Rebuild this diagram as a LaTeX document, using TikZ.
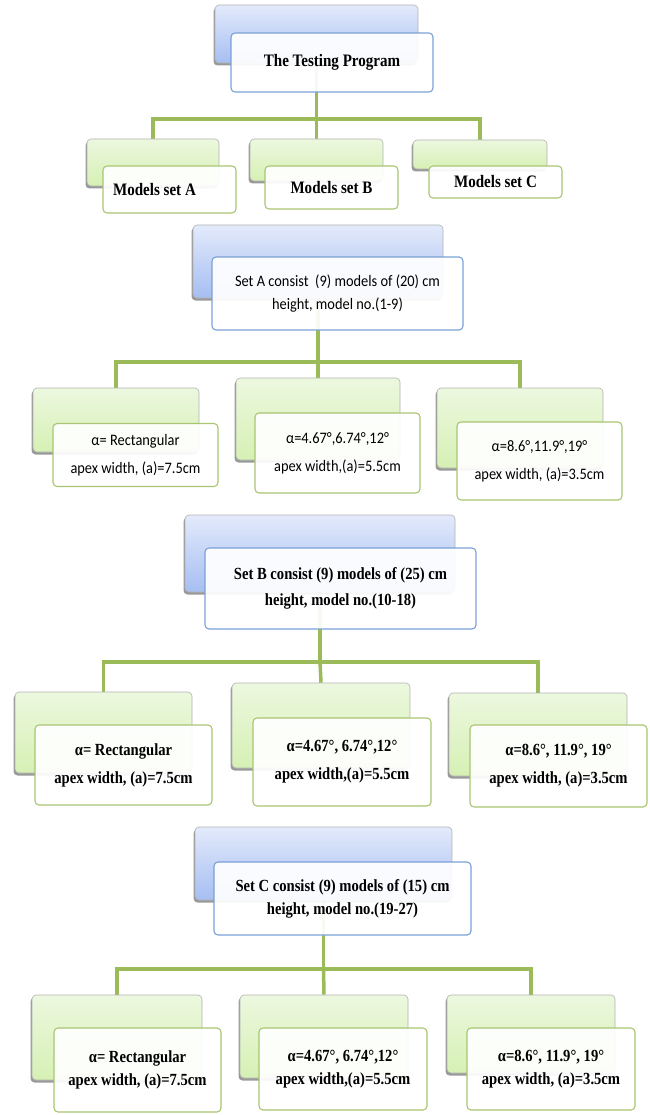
\documentclass[tikz,border=0pt]{standalone}
\usepackage{fontspec}
\setmainfont{Liberation Serif}[FakeStretch=0.86]
\newfontfamily\calfont{Carlito}[FakeStretch=0.9]
\usetikzlibrary{shadows}
\pgfdeclarelayer{bg}
\pgfsetlayers{bg,main}
\definecolor{grn}{HTML}{9BBB59}
\definecolor{blueT}{HTML}{E3EAFB}
\definecolor{blueB}{HTML}{A6BEF2}
\definecolor{blueD}{HTML}{7AA0D6}
\definecolor{greenT}{HTML}{ECF8DF}
\definecolor{greenB}{HTML}{D6F0B4}
\begin{document}
\begin{tikzpicture}[x=1pt,y=-1pt,
  bbk/.style={rectangle, rounded corners=4pt, draw=gray!60, line width=0.6pt, top color=blueT, bottom color=blueB, inner sep=0pt,
    drop shadow={shadow xshift=-1.5pt, shadow yshift=-2.5pt, fill=black, opacity=0.4}},
  gbk/.style={rectangle, rounded corners=4pt, draw=gray!60, line width=0.6pt, top color=greenT, bottom color=greenB, inner sep=0pt,
    drop shadow={shadow xshift=-1.5pt, shadow yshift=-2.5pt, fill=black, opacity=0.4}},
  bft/.style={rectangle, rounded corners=4pt, draw=blueD, line width=1.1pt, fill=white, fill opacity=0.93, text opacity=1, align=center, inner sep=0pt},
  gft/.style={rectangle, rounded corners=4pt, draw=grn!85, line width=1.1pt, fill=white, fill opacity=0.93, text opacity=1, align=center, inner sep=0pt},
  conn/.style={draw=grn, line width=3.5pt},
  serB/.style={font=\fontsize{17.5}{20}\selectfont\bfseries},
  serR/.style={font=\fontsize{17}{28}\selectfont\bfseries},
  serC/.style={font=\fontsize{17}{23}\selectfont\bfseries},
  cal/.style={font=\calfont\fontsize{16}{28}\selectfont},
  calH/.style={font=\calfont\fontsize{16}{23}\selectfont}
]
\useasboundingbox (0,0) rectangle (649,1115);
% bus levels
\coordinate (busT) at (0,119);
\coordinate (busA) at (0,362);
\coordinate (busB) at (0,662);
\coordinate (busC) at (0,969);
% ---------- top
\node[bbk, minimum width=203pt, minimum height=58pt] (tb) at (316.5,34) {};
\node[bft, minimum width=202pt, minimum height=59pt, serB] (tf) at (332,62.5) {The Testing Program};
% ---------- models row
\node[gbk, minimum width=132pt, minimum height=47pt] (mab) at (153,162.5) {};
\node[gft, minimum width=133pt, minimum height=47pt, serB] (maf) at (169.5,189.5) {Models set A\hspace*{30pt}};
\node[gbk, minimum width=133pt, minimum height=42pt] (mbb) at (316.5,160) {};
\node[gft, minimum width=133pt, minimum height=43pt, serB] (mbf) at (331.5,187.5) {Models set B};
\node[gbk, minimum width=134pt, minimum height=29pt] (mcb) at (480,154.5) {};
\node[gft, minimum width=133pt, minimum height=32pt, serB] (mcf) at (495.5,182) {Models set C};
% ---------- set A
\node[bbk, minimum width=250pt, minimum height=73pt] (ab) at (318,261.5) {};
\node[bft, minimum width=251pt, minimum height=73pt, calH] (af) at (337.5,293.5) {Set A consist~ (9) models of (20) cm\\height, model no.(1-9)};
\node[gbk, minimum width=166pt, minimum height=64pt] (a1b) at (116,420) {};
\node[gft, minimum width=165pt, minimum height=63pt, cal] (a1f) at (135.5,455) {α= Rectangular\\apex width, (a)=7.5cm};
\node[gbk, minimum width=164pt, minimum height=82pt] (a2b) at (318,419) {};
\node[gft, minimum width=165pt, minimum height=80pt, cal] (a2f) at (337.5,453) {α=4.67°,6.74°,12°\\apex width,(a)=5.5cm};
\node[gbk, minimum width=166pt, minimum height=80pt] (a3b) at (520,428) {};
\node[gft, minimum width=165pt, minimum height=78pt, cal] (a3f) at (539.5,461) {α=8.6°,11.9°,19°\\apex width, (a)=3.5cm};
% ---------- set B
\node[bbk, minimum width=270pt, minimum height=77pt] (bb) at (320,553.5) {};
\node[bft, minimum width=271pt, minimum height=81pt, font=\fontsize{17}{26}\selectfont\bfseries] (bf) at (340.5,588.5) {Set B consist (9) models of (25) cm\\height, model no.(10-18)};
\node[gbk, minimum width=177pt, minimum height=81pt] (b1b) at (103.5,732.5) {};
\node[gft, minimum width=177pt, minimum height=80pt, serR] (b1f) at (123.5,765) {α= Rectangular\\apex width, (a)=7.5cm};
\node[gbk, minimum width=178pt, minimum height=85pt] (b2b) at (321,725.5) {};
\node[gft, minimum width=178pt, minimum height=88pt, serR] (b2f) at (342,762) {α=4.67°, 6.74°,12°\\apex width,(a)=5.5cm};
\node[gbk, minimum width=178pt, minimum height=83pt] (b3b) at (538,734.5) {};
\node[gft, minimum width=177pt, minimum height=82pt, serR] (b3f) at (558.5,766) {α=8.6°, 11.9°, 19°\\apex width, (a)=3.5cm};
% ---------- set C
\node[bbk, minimum width=257pt, minimum height=73pt] (cb) at (323.5,863.5) {};
\node[bft, minimum width=257pt, minimum height=73pt, font=\fontsize{17}{23}\selectfont\bfseries] (cf) at (342.5,898.5) {Set C consist (9) models of (15) cm\\height, model no.(19-27)};
\node[gbk, minimum width=170pt, minimum height=85pt] (c1b) at (117,1037.5) {};
\node[gft, minimum width=167pt, minimum height=84pt, serC] (c1f) at (137.5,1070) {α= Rectangular\\apex width, (a)=7.5cm};
\node[gbk, minimum width=168pt, minimum height=83pt] (c2b) at (324,1036.5) {};
\node[gft, minimum width=168pt, minimum height=82pt, serC] (c2f) at (343,1069) {α=4.67°, 6.74°,12°\\apex width,(a)=5.5cm};
\node[gbk, minimum width=168pt, minimum height=78pt] (c3b) at (531,1034) {};
\node[gft, minimum width=168pt, minimum height=82pt, serC] (c3f) at (551,1069) {α=8.6°, 11.9°, 19°\\apex width, (a)=3.5cm};
% ---------- connectors (behind the boxes)
\begin{pgfonlayer}{bg}
\draw[conn] (tb.south) -- (tb.south |- busT) -| (mab.north);
\draw[conn] (tb.south |- busT) -| (mcb.north);
\draw[conn] (tb.south |- busT) -- (mbb.north);
\draw[conn] (ab.south) -- (ab.south |- busA) -| (a1b.north);
\draw[conn] (ab.south |- busA) -| (a3b.north);
\draw[conn] (ab.south |- busA) -- (a2b.north);
\draw[conn] (bb.south) -- (bb.south |- busB) -| (b1b.north);
\draw[conn] (bb.south |- busB) -| (b3b.north);
\draw[conn] (bb.south |- busB) -- (b2b.north);
\draw[conn] (cb.south) -- (cb.south |- busC) -| (c1b.north);
\draw[conn] (cb.south |- busC) -| (c3b.north);
\draw[conn] (cb.south |- busC) -- (c2b.north);
\end{pgfonlayer}
\end{tikzpicture}
\end{document}
